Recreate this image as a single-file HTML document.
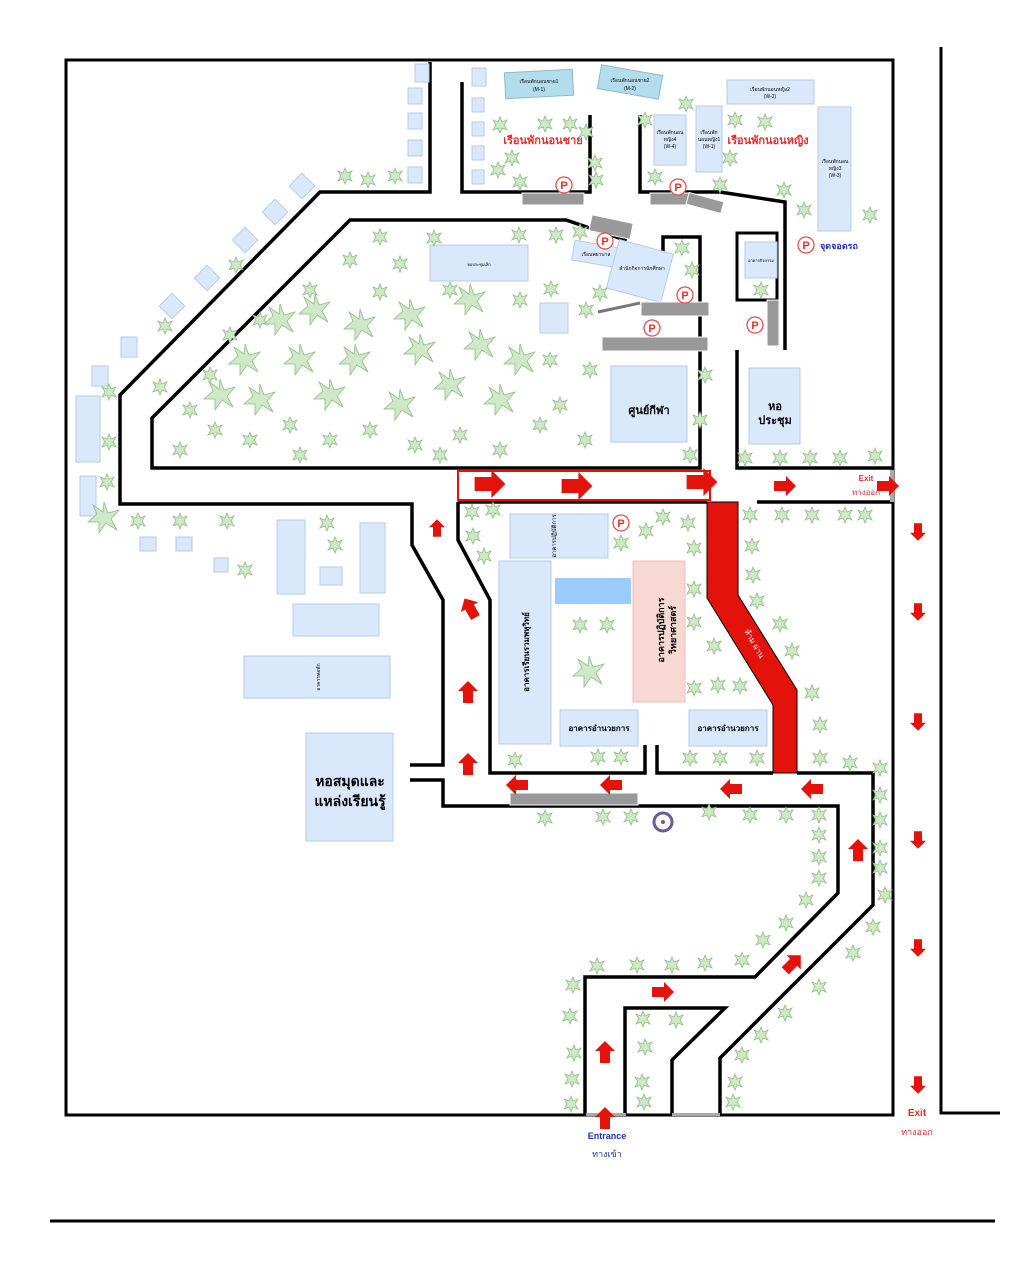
<!DOCTYPE html>
<html><head><meta charset="utf-8"><style>html,body{margin:0;padding:0;background:#fff}svg{display:block}
text{font-family:"Liberation Sans","Noto Sans CJK SC",sans-serif}</style></head><body>
<svg width="1024" height="1264" viewBox="0 0 1024 1264" xmlns="http://www.w3.org/2000/svg">
<defs>
<g id="pl"><polygon points="0,-8 2,-3 7,-5 4,0 7,5 2,3 0,8 -2,3 -7,5 -4,0 -7,-5 -2,-3" fill="#cfe8c8" stroke="#8dbf82" stroke-width="0.8"/></g>
<g id="bp"><polygon points="0,-16 4,-5 15,-8 7,1 13,12 2,5 -5,15 -5,4 -16,4 -7,-4 -11,-13 -1,-6" fill="#cfe8c8" stroke="#8dbf82" stroke-width="0.8"/></g>
<path id="ar" d="M-11,-5 L1,-5 L1,-10 L11,0 L1,10 L1,5 L-11,5Z" fill="#e3120b"/>
<g id="pk"><circle r="8" fill="#fff" stroke="#e05050" stroke-width="1.3"/><text y="4" text-anchor="middle" font-size="11" font-weight="bold" fill="#e03030">P</text></g>
</defs>
<g fill="none" stroke="#000" stroke-width="3.5">
<rect x="66" y="60" width="827" height="1055" stroke-width="3"/>
<path d="M941,47 V1113 H1000" stroke-width="3"/>
<path d="M50,1221 H995" stroke-width="3"/>
<path d="M430,62 V192 H320 L120,395 V504 H412 V545 L443,600 V765 H410"/>
<path d="M410,780 H443 V806 H838 V893 L755,977 H585 V1115"/>
<path d="M350,220 H566 L625,240 V253 L663,260 V237 H700 V468 H152 V418 Z"/>
<path d="M458,502 V540 L490,600 V773 H645 V745"/>
<path d="M657,745 V773 H773"/>
<path d="M797,773 H873 V905 L720,1058 V1115"/>
<path d="M625,1115 V1008 H725 L672,1060 V1115"/>
<path d="M462,82 V192 H590 V115"/>
<path d="M640,115 V192 H720 L785,202 V350"/>
<path d="M737,233 H777 V300 H737 Z" stroke-width="3"/>
<path d="M737,350 V468 H893"/>
<path d="M757,502 H893"/>
<path d="M458,502 H707"/>
</g>
<rect x="458" y="471" width="252" height="29" fill="none" stroke="#e3120b" stroke-width="2"/>
<polygon points="707,502 738,502 738,595 797,690 797,773 773,773 773,705 707,598" fill="#e3120b" stroke="#000" stroke-width="1"/>
<text transform="translate(752,645) rotate(60)" font-size="8" fill="#fff" text-anchor="middle">ห้าม ผ่าน</text>
<g fill="#aaa"><rect x="586" y="1113" width="40" height="3"/><rect x="672" y="1113" width="48" height="3"/><rect x="890" y="470" width="4" height="32"/></g>
<g fill="#dae8fc" stroke="#b7cbe6" stroke-width="1">
<rect x="415" y="64" width="14" height="18"/><rect x="408" y="88" width="14" height="16"/><rect x="408" y="113" width="14" height="16"/><rect x="408" y="140" width="14" height="16"/><rect x="408" y="167" width="14" height="16"/>
<rect x="-9" y="-9" width="18" height="18" transform="translate(302,186) rotate(45)"/><rect x="-9" y="-9" width="18" height="18" transform="translate(275,212) rotate(45)"/><rect x="-9" y="-9" width="18" height="18" transform="translate(245,240) rotate(45)"/><rect x="-9" y="-9" width="18" height="18" transform="translate(207,278) rotate(45)"/><rect x="-9" y="-9" width="18" height="18" transform="translate(172,306) rotate(45)"/>
<rect x="121" y="337" width="16" height="20"/><rect x="92" y="366" width="16" height="20"/><rect x="76" y="396" width="24" height="66"/><rect x="80" y="476" width="16" height="40"/>
<rect x="140" y="537" width="16" height="14"/><rect x="176" y="537" width="16" height="14"/><rect x="214" y="558" width="14" height="14"/>
<rect x="277" y="520" width="28" height="74"/><rect x="360" y="523" width="25" height="70"/><rect x="320" y="567" width="22" height="18"/><rect x="293" y="604" width="86" height="32"/><rect x="244" y="656" width="146" height="42"/><rect x="306" y="733" width="87" height="108"/>
<rect x="472" y="68" width="14" height="18"/><rect x="472" y="98" width="12" height="14"/><rect x="472" y="122" width="12" height="14"/><rect x="472" y="146" width="12" height="14"/><rect x="472" y="170" width="12" height="14"/>
<rect x="727" y="80" width="87" height="24"/><rect x="696" y="106" width="26" height="66"/><rect x="654" y="115" width="32" height="50"/><rect x="818" y="107" width="33" height="124"/>
<rect x="430" y="245" width="98" height="36"/><rect x="540" y="303" width="28" height="30"/><rect x="611" y="366" width="76" height="76"/>
<rect x="-23" y="-10" width="46" height="20" transform="translate(596,254) rotate(10)"/><rect x="-28" y="-25" width="56" height="50" transform="translate(640,271) rotate(15)"/>
<rect x="745" y="242" width="32" height="36"/><rect x="749" y="368" width="51" height="76"/>
<rect x="510" y="514" width="98" height="44"/><rect x="499" y="561" width="52" height="183"/><rect x="560" y="710" width="78" height="36"/><rect x="689" y="710" width="78" height="36"/>
</g>
<rect x="-34" y="-13" width="68" height="26" transform="translate(539,84) rotate(-3)" fill="#b3dcec" stroke="#8fb8cc"/>
<rect x="-31" y="-12" width="62" height="24" transform="translate(630,82) rotate(10)" fill="#b3dcec" stroke="#8fb8cc"/>
<rect x="555" y="578" width="76" height="26" fill="#99ccff"/>
<rect x="633" y="561" width="52" height="141" fill="#f8d8d2" stroke="#e8c0b8"/>
<g fill="#999" stroke="#fff" stroke-width="1">
<rect x="522" y="193" width="62" height="12"/><rect x="650" y="193" width="40" height="12"/><rect x="-18" y="-6" width="36" height="12" transform="translate(705,203) rotate(15)"/>
<rect x="-21" y="-8" width="42" height="16" transform="translate(611,227) rotate(12)"/>
<rect x="641" y="302" width="68" height="14"/><rect x="602" y="337" width="106" height="14"/><rect x="767" y="300" width="12" height="46"/><rect x="510" y="793" width="128" height="12"/>
</g>
<line x1="598" y1="312" x2="640" y2="303" stroke="#777" stroke-width="3"/>
<g><use href="#pk" x="564" y="185"/><use href="#pk" x="678" y="187"/><use href="#pk" x="605" y="241"/><use href="#pk" x="685" y="295"/><use href="#pk" x="652" y="328"/><use href="#pk" x="755" y="325"/><use href="#pk" x="806" y="245"/><use href="#pk" x="621" y="523"/></g>
<circle cx="663" cy="822" r="9" fill="#fff" stroke="#6a5a9a" stroke-width="3"/><circle cx="663" cy="822" r="2" fill="#6a5a9a"/>
<g text-anchor="middle">
<text x="543" y="144" font-size="11" font-weight="bold" fill="#e03030">เรือนพักนอนชาย</text>
<text x="768" y="144" font-size="11" font-weight="bold" fill="#e03030">เรือนพักนอนหญิง</text>
<text x="839" y="249" font-size="9" font-weight="bold" fill="#2030b0">จุดจอดรถ</text>
<text x="649" y="414" font-size="11" font-weight="bold">ศูนย์กีฬา</text>
<text x="775" y="410" font-size="11" font-weight="bold">หอ</text><text x="775" y="424" font-size="11" font-weight="bold">ประชุม</text>
<text x="350" y="786" font-size="14" font-weight="bold">หอสมุดและ</text><text x="350" y="806" font-size="14" font-weight="bold">แหล่งเรียนรู้</text>
<text x="599" y="731" font-size="8" font-weight="bold">อาคารอำนวยการ</text>
<text x="728" y="731" font-size="8" font-weight="bold">อาคารอำนวยการ</text>
<text transform="translate(529,652) rotate(-90)" font-size="8" font-weight="bold">อาคารเรียนรวมพหุวิทย์</text>
<text transform="translate(664,630) rotate(-90)" font-size="9" font-weight="bold">อาคารปฏิบัติการ</text>
<text transform="translate(676,630) rotate(-90)" font-size="9" font-weight="bold">วิทยาศาสตร์</text>
<text transform="translate(556,536) rotate(-90)" font-size="6">อาคารปฏิบัติการ</text>
<text transform="translate(320,677) rotate(-90)" font-size="5">อาคารหอพัก</text>
<text x="539" y="83" font-size="5">เรือนพักนอนชาย1</text><text x="539" y="91" font-size="5">(M-1)</text>
<text x="630" y="82" font-size="5">เรือนพักนอนชาย2</text><text x="630" y="90" font-size="5">(M-2)</text>
<text x="770" y="91" font-size="5">เรือนพักนอนหญิง2</text><text x="770" y="98" font-size="5">(W-2)</text>
<text x="670" y="134" font-size="5">เรือนพักนอน</text><text x="670" y="141" font-size="5">หญิง4</text><text x="670" y="148" font-size="5">(W-4)</text>
<text x="709" y="134" font-size="5">เรือนพัก</text><text x="709" y="141" font-size="5">นอนหญิง1</text><text x="709" y="148" font-size="5">(W-1)</text>
<text x="835" y="163" font-size="5">เรือนพักนอน</text><text x="835" y="170" font-size="5">หญิง3</text><text x="835" y="177" font-size="5">(W-3)</text>
<text x="596" y="256" font-size="5">เรือนพยาบาล</text>
<text x="642" y="270" font-size="5">สำนักกิจการนักศึกษา</text>
<text x="761" y="262" font-size="4">อาคารกิจกรรม</text>
<text x="479" y="266" font-size="4">หอประชุมเล็ก</text>
<text x="866" y="481" font-size="8" font-weight="bold" fill="#e03030">Exit</text>
<text x="866" y="495" font-size="8" fill="#e03030">ทางออก</text>
<text x="917" y="1116" font-size="10" font-weight="bold" fill="#e03030">Exit</text>
<text x="917" y="1135" font-size="9" fill="#e03030">ทางออก</text>
<text x="607" y="1139" font-size="9" font-weight="bold" fill="#2030b0">Entrance</text>
<text x="607" y="1157" font-size="9" fill="#2030b0">ทางเข้า</text>
</g>
<g>
<use href="#ar" transform="translate(490,484) scale(1.4)"/><use href="#ar" transform="translate(577,486) scale(1.4)"/><use href="#ar" transform="translate(702,482) scale(1.4)"/>
<use href="#ar" transform="translate(785,486)"/><use href="#ar" transform="translate(888,486)"/>
<use href="#ar" transform="translate(437,528) rotate(-90) scale(0.8)"/><use href="#ar" transform="translate(470,608) rotate(-120)"/><use href="#ar" transform="translate(468,692) rotate(-90)"/><use href="#ar" transform="translate(468,764) rotate(-90)"/>
<use href="#ar" transform="translate(918,532) rotate(90) scale(0.8)"/><use href="#ar" transform="translate(918,612) rotate(90) scale(0.8)"/><use href="#ar" transform="translate(918,722) rotate(90) scale(0.8)"/><use href="#ar" transform="translate(918,840) rotate(90) scale(0.8)"/><use href="#ar" transform="translate(918,948) rotate(90) scale(0.8)"/><use href="#ar" transform="translate(918,1085) rotate(90) scale(0.8)"/>
<use href="#ar" transform="translate(517,785) rotate(180)"/><use href="#ar" transform="translate(611,785) rotate(180)"/><use href="#ar" transform="translate(731,789) rotate(180)"/><use href="#ar" transform="translate(812,789) rotate(180)"/>
<use href="#ar" transform="translate(858,850) rotate(-90)"/><use href="#ar" transform="translate(605,1052) rotate(-90)"/><use href="#ar" transform="translate(605,1118) rotate(-90)"/>
<use href="#ar" transform="translate(663,992)"/><use href="#ar" transform="translate(793,963) rotate(-45)"/>
</g>
<g>
<use href="#pl" x="345" y="176"/><use href="#pl" x="368" y="180"/><use href="#pl" x="395" y="176"/><use href="#pl" x="236" y="265"/><use href="#pl" x="165" y="326"/><use href="#pl" x="109" y="392"/><use href="#pl" x="109" y="442"/><use href="#pl" x="107" y="482"/>
<use href="#bp" x="104" y="518"/><use href="#pl" x="138" y="521"/><use href="#pl" x="180" y="521"/><use href="#pl" x="227" y="521"/><use href="#pl" x="327" y="523"/><use href="#pl" x="335" y="545"/><use href="#pl" x="245" y="570"/>
<use href="#pl" x="500" y="125"/><use href="#pl" x="545" y="124"/><use href="#pl" x="570" y="124"/><use href="#pl" x="586" y="132"/><use href="#pl" x="512" y="158"/><use href="#pl" x="498" y="170"/><use href="#pl" x="595" y="163"/><use href="#pl" x="596" y="180"/><use href="#pl" x="520" y="182"/>
<use href="#pl" x="686" y="104"/><use href="#pl" x="645" y="120"/><use href="#pl" x="735" y="120"/><use href="#pl" x="765" y="122"/><use href="#pl" x="730" y="158"/><use href="#pl" x="655" y="177"/><use href="#pl" x="720" y="185"/><use href="#pl" x="784" y="190"/><use href="#pl" x="804" y="210"/>
<use href="#pl" x="380" y="237"/><use href="#pl" x="434" y="238"/><use href="#pl" x="519" y="235"/><use href="#pl" x="556" y="235"/><use href="#pl" x="580" y="232"/><use href="#pl" x="682" y="248"/><use href="#pl" x="692" y="270"/><use href="#pl" x="600" y="293"/><use href="#pl" x="551" y="289"/><use href="#pl" x="586" y="310"/><use href="#pl" x="761" y="290"/>
<use href="#pl" x="350" y="260"/><use href="#pl" x="400" y="264"/><use href="#pl" x="310" y="290"/><use href="#pl" x="380" y="292"/><use href="#pl" x="450" y="290"/><use href="#pl" x="520" y="300"/><use href="#pl" x="230" y="335"/><use href="#pl" x="260" y="320"/><use href="#pl" x="210" y="375"/><use href="#pl" x="190" y="410"/><use href="#pl" x="215" y="430"/><use href="#pl" x="250" y="440"/><use href="#pl" x="290" y="425"/><use href="#pl" x="330" y="440"/><use href="#pl" x="370" y="430"/><use href="#pl" x="415" y="445"/><use href="#pl" x="460" y="435"/><use href="#pl" x="500" y="450"/><use href="#pl" x="540" y="425"/><use href="#pl" x="560" y="405"/><use href="#pl" x="585" y="440"/><use href="#pl" x="590" y="370"/><use href="#pl" x="550" y="360"/><use href="#pl" x="180" y="450"/><use href="#pl" x="160" y="387"/><use href="#pl" x="300" y="455"/><use href="#pl" x="440" y="455"/><use href="#pl" x="690" y="455"/><use href="#pl" x="700" y="420"/><use href="#pl" x="705" y="375"/>
<use href="#bp" x="280" y="320"/><use href="#bp" x="315" y="310"/><use href="#bp" x="360" y="325"/><use href="#bp" x="410" y="315"/><use href="#bp" x="470" y="300"/><use href="#bp" x="245" y="360"/><use href="#bp" x="300" y="360"/><use href="#bp" x="355" y="360"/><use href="#bp" x="420" y="350"/><use href="#bp" x="480" y="345"/><use href="#bp" x="520" y="360"/><use href="#bp" x="260" y="400"/><use href="#bp" x="330" y="395"/><use href="#bp" x="400" y="405"/><use href="#bp" x="450" y="385"/><use href="#bp" x="500" y="400"/><use href="#bp" x="220" y="395"/>
<use href="#pl" x="745" y="458"/><use href="#pl" x="780" y="458"/><use href="#pl" x="810" y="458"/><use href="#pl" x="840" y="458"/><use href="#pl" x="875" y="456"/><use href="#pl" x="870" y="215"/>
<use href="#pl" x="472" y="512"/><use href="#pl" x="493" y="510"/><use href="#pl" x="473" y="536"/><use href="#pl" x="484" y="556"/><use href="#pl" x="663" y="517"/><use href="#pl" x="688" y="523"/><use href="#pl" x="646" y="531"/><use href="#pl" x="621" y="543"/><use href="#pl" x="694" y="548"/><use href="#pl" x="694" y="589"/><use href="#pl" x="694" y="622"/><use href="#pl" x="714" y="646"/><use href="#pl" x="694" y="688"/><use href="#pl" x="718" y="685"/><use href="#pl" x="740" y="686"/><use href="#pl" x="580" y="625"/><use href="#pl" x="607" y="625"/><use href="#bp" x="589" y="672"/>
<use href="#pl" x="515" y="760"/><use href="#pl" x="598" y="757"/><use href="#pl" x="621" y="757"/><use href="#pl" x="690" y="758"/><use href="#pl" x="720" y="758"/><use href="#pl" x="757" y="758"/>
<use href="#pl" x="750" y="515"/><use href="#pl" x="782" y="515"/><use href="#pl" x="812" y="515"/><use href="#pl" x="845" y="515"/><use href="#pl" x="865" y="515"/><use href="#pl" x="752" y="546"/><use href="#pl" x="753" y="575"/><use href="#pl" x="757" y="601"/><use href="#pl" x="780" y="624"/><use href="#pl" x="792" y="651"/><use href="#pl" x="812" y="693"/><use href="#pl" x="820" y="725"/><use href="#pl" x="820" y="758"/><use href="#pl" x="850" y="763"/><use href="#pl" x="880" y="768"/><use href="#pl" x="880" y="795"/><use href="#pl" x="880" y="820"/><use href="#pl" x="880" y="848"/><use href="#pl" x="880" y="868"/><use href="#pl" x="885" y="895"/>
<use href="#pl" x="545" y="818"/><use href="#pl" x="603" y="817"/><use href="#pl" x="631" y="817"/><use href="#pl" x="709" y="812"/><use href="#pl" x="750" y="815"/><use href="#pl" x="786" y="815"/><use href="#pl" x="819" y="815"/><use href="#pl" x="819" y="835"/><use href="#pl" x="819" y="857"/><use href="#pl" x="819" y="878"/><use href="#pl" x="806" y="900"/><use href="#pl" x="786" y="923"/><use href="#pl" x="763" y="940"/><use href="#pl" x="742" y="960"/><use href="#pl" x="705" y="963"/><use href="#pl" x="672" y="965"/><use href="#pl" x="637" y="965"/><use href="#pl" x="597" y="966"/><use href="#pl" x="573" y="985"/><use href="#pl" x="570" y="1016"/><use href="#pl" x="574" y="1053"/><use href="#pl" x="572" y="1079"/><use href="#pl" x="571" y="1104"/><use href="#pl" x="643" y="1019"/><use href="#pl" x="676" y="1020"/><use href="#pl" x="645" y="1047"/><use href="#pl" x="642" y="1082"/><use href="#pl" x="644" y="1102"/><use href="#pl" x="873" y="927"/><use href="#pl" x="853" y="953"/><use href="#pl" x="819" y="987"/><use href="#pl" x="785" y="1013"/><use href="#pl" x="761" y="1035"/><use href="#pl" x="742" y="1055"/><use href="#pl" x="735" y="1082"/><use href="#pl" x="733" y="1102"/>
</g>
</svg>
</body></html>
